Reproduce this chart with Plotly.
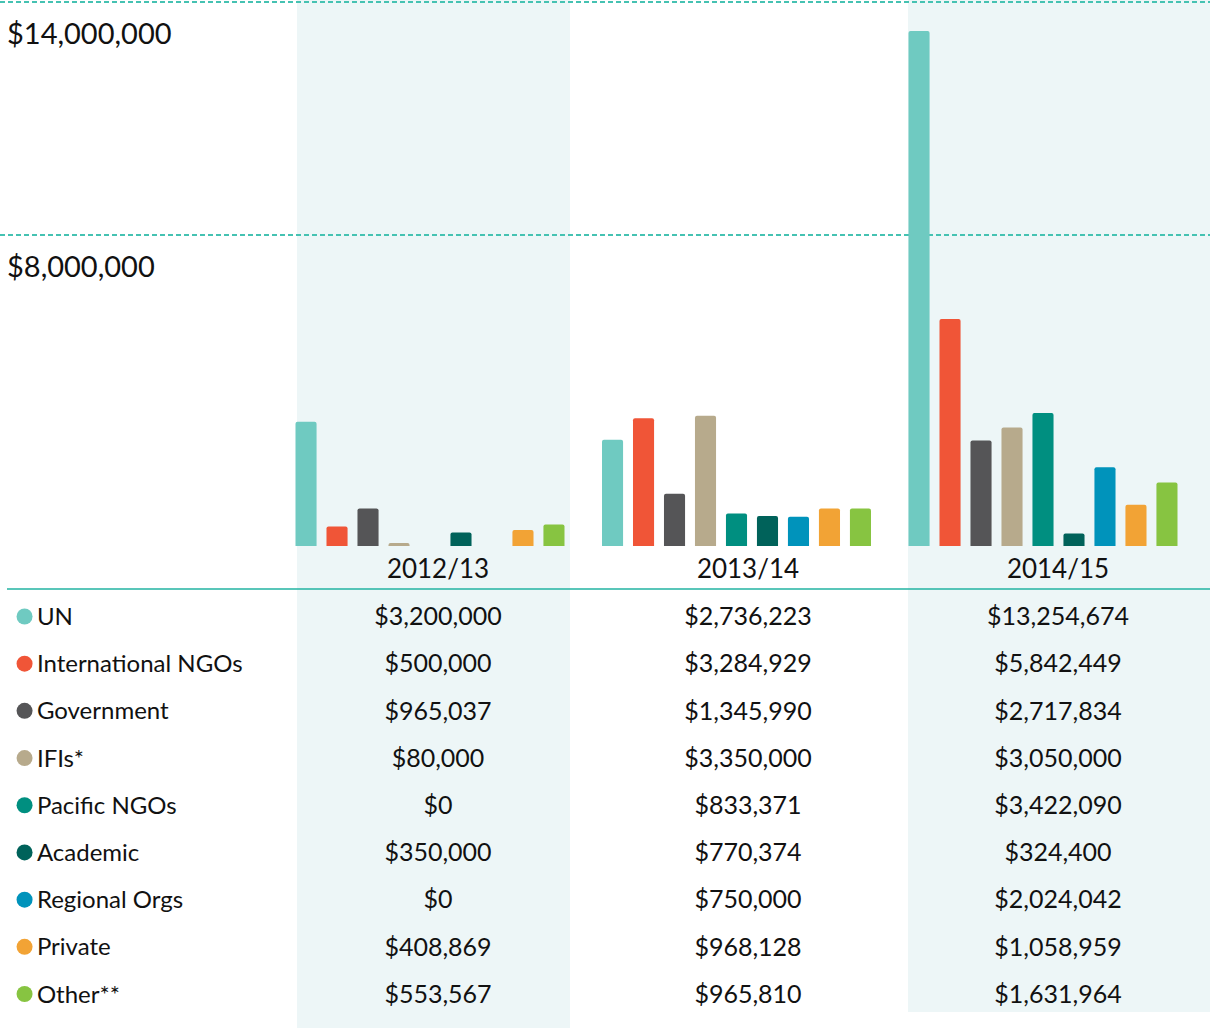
import plotly.graph_objects as go

# ---------------- data ----------------
years = ["2012/13", "2013/14", "2014/15"]
sources = ["UN", "International NGOs", "Government", "IFIs*", "Pacific NGOs",
           "Academic", "Regional Orgs", "Private", "Other**"]
un = [3200000, 2736223, 13254674]
intl_ngos = [500000, 3284929, 5842449]
government = [965037, 1345990, 2717834]
ifis = [80000, 3350000, 3050000]
pacific_ngos = [0, 833371, 3422090]
academic = [350000, 770374, 324400]
regional_orgs = [0, 750000, 2024042]
private = [408869, 968128, 1058959]
other = [553567, 965810, 1631964]
axis_ticks = [8000000, 14000000]

series = [un, intl_ngos, government, ifis, pacific_ngos, academic,
          regional_orgs, private, other]
colors = ["#6fcac1", "#f05537", "#555557", "#b7aa8c", "#008f80",
          "#00625a", "#0093bb", "#f2a335", "#87c441"]

FONT = "Lato"
TXT = "#111111"

fig = go.Figure()

# ---------------- bars ----------------
for name, vals, col in zip(sources, series, colors):
    fig.add_trace(go.Bar(
        x=years, y=vals, name=name, marker=dict(color=col, cornerradius=2,
                                                line=dict(width=0)),
        xaxis="x", yaxis="y", showlegend=False, hoverinfo="x+y+name"))

# ---------------- table ----------------
def money(v):
    return "${:,.0f}".format(v)

header_key = "Year"
fig.add_trace(go.Scatter(
    x=years, y=[header_key] * len(years), text=years, mode="text",
    textposition="middle center", textfont=dict(family=FONT, size=26, color=TXT),
    xaxis="x2", yaxis="y2", showlegend=False, hoverinfo="skip"))

for j, yr in enumerate(years):
    fig.add_trace(go.Scatter(
        x=[yr] * len(sources), y=sources,
        text=[money(s[j]) for s in series], mode="text",
        textposition="middle center",
        textfont=dict(family=FONT, size=25, color=TXT),
        xaxis="x2", yaxis="y2", showlegend=False, hoverinfo="skip"))

# row labels: colour dots + names
fig.add_trace(go.Scatter(
    x=[0.0203] * len(sources), y=sources, mode="markers",
    marker=dict(color=colors, size=16, line=dict(width=0)),
    xaxis="x3", yaxis="y3", showlegend=False, hoverinfo="skip"))
fig.add_trace(go.Scatter(
    x=[0.0305] * len(sources), y=sources, text=sources,
    mode="text", textposition="middle right",
    textfont=dict(family=FONT, size=24, color=TXT),
    xaxis="x3", yaxis="y2", showlegend=False, hoverinfo="skip"))

W, H = 1210, 1028
bar_base_px = 546
cat_px = 306.5
first_cat_px = 430
tbl_px = 310
tbl_first_px = 438
row0_px = 571.8
row_step = 47.19
dot_row0_px = row0_px - 2.5

ymax = axis_ticks[-1] * bar_base_px / (bar_base_px - 2)

fig.update_layout(
    width=W, height=H, autosize=False,
    margin=dict(l=0, r=0, t=0, b=0, pad=0),
    paper_bgcolor="white", plot_bgcolor="rgba(0,0,0,0)",
    barmode="group", bargap=0.09, bargroupgap=0.32,
    font=dict(family=FONT, color=TXT),
    xaxis=dict(type="category", categoryarray=years, domain=[0, 1],
               range=[-first_cat_px / cat_px, (W - first_cat_px) / cat_px],
               visible=False, fixedrange=True),
    yaxis=dict(domain=[(H - bar_base_px) / H, 1], range=[0, ymax],
               tickvals=axis_ticks, showticklabels=False, showgrid=True,
               gridcolor="#45c2b2", gridwidth=2, griddash="5px,3px",
               zeroline=False, showline=False, fixedrange=True),
    xaxis2=dict(type="category", categoryarray=years, domain=[0, 1], anchor="y2",
                range=[-tbl_first_px / tbl_px, (W - tbl_first_px) / tbl_px],
                visible=False, fixedrange=True),
    yaxis2=dict(type="category", categoryarray=[header_key] + sources,
                domain=[0, (H - bar_base_px) / H], anchor="x2",
                range=[(H - row0_px) / row_step, (bar_base_px - row0_px) / row_step],
                visible=False, fixedrange=True),
    yaxis3=dict(type="category", categoryarray=[header_key] + sources,
                domain=[0, (H - bar_base_px) / H], anchor="x3", overlaying="y2",
                range=[(H - dot_row0_px) / row_step,
                       (bar_base_px - dot_row0_px) / row_step],
                visible=False, fixedrange=True),
    xaxis3=dict(domain=[0, 1], range=[0, 1], anchor="y2", overlaying="x2",
                visible=False, fixedrange=True),
)

# background column shading and separator
fig.add_shape(type="rect", xref="paper", yref="paper",
              x0=297 / W, x1=570 / W, y0=0, y1=1,
              fillcolor="#edf6f7", line=dict(width=0), layer="below")
fig.add_shape(type="rect", xref="paper", yref="paper",
              x0=908 / W, x1=1, y0=(H - 1012) / H, y1=1,
              fillcolor="#edf6f7", line=dict(width=0), layer="below")
fig.add_shape(type="line", xref="paper", yref="paper",
              x0=7 / W, x1=1, y0=(H - 589) / H, y1=(H - 589) / H,
              line=dict(color="#22b3a2", width=1.5), layer="below")

# axis value labels
for v in axis_ticks:
    fig.add_annotation(x=5 / W, xref="paper", y=v, yref="y",
                       text="${:,.0f}".format(v), showarrow=False,
                       xanchor="left", yanchor="middle", yshift=-30,
                       font=dict(family=FONT, size=29, color=TXT))

fig.write_html("out.html")
